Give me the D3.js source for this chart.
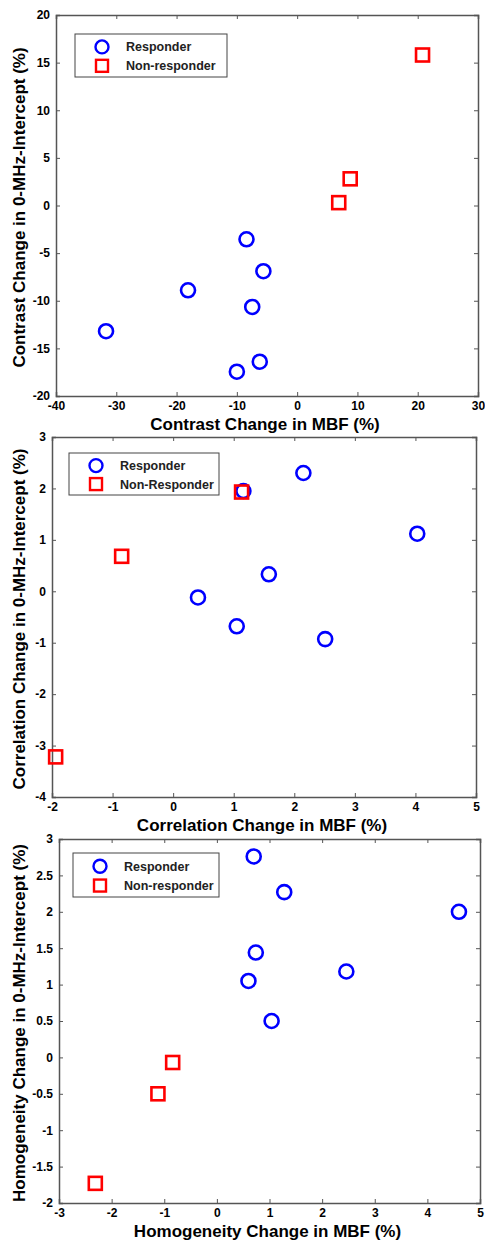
<!DOCTYPE html>
<meta charset="utf-8">
<head>
</head>
<body style="margin:0;background:#fff">
<style>
text { font-family: Arial, "Liberation Sans", sans-serif; fill: #000; }
.tick text { font-size: 12px; font-weight: bold; }
.axis path, .axis line { stroke: #555; }
.lab { font-size: 17px; font-weight: bold; }
.leg text { font-size: 12.5px; font-weight: bold; fill: #222; }
</style>
<svg width="485" height="1240"></svg>
<script src="https://d3js.org/d3.v7.min.js"></script>
<script>
// contrast panel
var contrastResp = [[-31.7,-13.2],[-18.1,-8.9],[-8.4,-3.55],[-5.6,-6.9],[-7.45,-10.65],[-10.0,-17.45],[-6.2,-16.4]];
var contrastNon = [[20.8,15.8],[8.8,2.8],[6.9,0.3]];
// correlation panel
var corrResp = [[0.41,-0.12],[1.05,-0.68],[1.58,0.33],[1.16,1.95],[2.15,2.3],[2.51,-0.93],[4.03,1.12]];
var corrNon = [[-1.94,-3.22],[-0.85,0.68],[1.13,1.93]];
// homogeneity panel
var homoResp = [[0.70,2.76],[1.28,2.27],[4.6,2.0],[0.74,1.44],[0.6,1.05],[2.46,1.18],[1.04,0.5]];
var homoNon = [[-0.84,-0.07],[-1.12,-0.5],[-2.31,-1.73]];

var panels = [
  {resp: contrastResp, non: contrastNon, xd: [-40,30], yd: [-20,20],
   xt: d3.range(-40,31,10), yt: d3.range(-20,21,5),
   box: [56,15,478,396], leg: [75,34,152,43], legNames: ["Responder","Non-responder"],
   xlab: "Contrast Change in MBF (%)", ylab: "Contrast Change in 0-MHz-Intercept (%)"},
  {resp: corrResp, non: corrNon, xd: [-2,5], yd: [-4,3],
   xt: d3.range(-2,6,1), yt: d3.range(-4,4,1),
   box: [52,437,476,797], leg: [69,453,150,42], legNames: ["Responder","Non-Responder"],
   xlab: "Correlation Change in MBF (%)", ylab: "Correlation Change in 0-MHz-Intercept (%)"},
  {resp: homoResp, non: homoNon, xd: [-3,5], yd: [-2,3],
   xt: d3.range(-3,6,1), yt: d3.range(-2,3.01,0.5),
   box: [59,839,480,1203], leg: [73,853,146,44], legNames: ["Responder","Non-responder"],
   xlab: "Homogeneity Change in MBF (%)", ylab: "Homogeneity Change in 0-MHz-Intercept (%)"}
];

var fmt = function(d) { return String(+d.toFixed(1)); };
var svg = d3.select("svg");

panels.forEach(function(p) {
  var x0 = p.box[0], y0 = p.box[1], x1 = p.box[2], y1 = p.box[3];
  var x = d3.scaleLinear().domain(p.xd).range([x0, x1]);
  var y = d3.scaleLinear().domain(p.yd).range([y1, y0]);
  var g = svg.append("g");

  g.append("g").attr("class", "axis").attr("transform", "translate(0," + y1 + ")")
    .call(d3.axisBottom(x).tickValues(p.xt).tickSize(-4).tickPadding(5).tickFormat(fmt));
  g.append("g").attr("class", "axis").attr("transform", "translate(" + x0 + ",0)")
    .call(d3.axisLeft(y).tickValues(p.yt).tickSize(-4).tickPadding(6).tickFormat(fmt));
  g.append("g").attr("class", "axis").attr("transform", "translate(0," + y0 + ")")
    .call(d3.axisTop(x).tickValues(p.xt).tickSize(-4).tickFormat(""));
  g.append("g").attr("class", "axis").attr("transform", "translate(" + x1 + ",0)")
    .call(d3.axisRight(y).tickValues(p.yt).tickSize(-4).tickFormat(""));
  g.selectAll(".axis path").attr("stroke-width", 1.5);

  g.append("text").attr("class", "lab").attr("text-anchor", "middle")
    .attr("x", (x0 + x1) / 2 - 2).attr("y", y1 + 34).text(p.xlab);
  g.append("text").attr("class", "lab").attr("text-anchor", "middle")
    .attr("transform", "translate(" + 25 + "," + ((y0 + y1) / 2 + 2) + ") rotate(-90)").text(p.ylab);

  g.selectAll(".resp").data(p.resp).enter().append("circle")
    .attr("cx", function(d) { return x(d[0]); })
    .attr("cy", function(d) { return y(d[1]); })
    .attr("r", 7).attr("fill", "none").attr("stroke", "#0000ff").attr("stroke-width", 2.6);
  g.selectAll(".non").data(p.non).enter().append("rect")
    .attr("x", function(d) { return x(d[0]) - 6.5; })
    .attr("y", function(d) { return y(d[1]) - 6.5; })
    .attr("width", 13).attr("height", 13)
    .attr("fill", "none").attr("stroke", "#ff0000").attr("stroke-width", 2.6);

  var lg = g.append("g").attr("class", "leg");
  lg.append("rect").attr("x", p.leg[0]).attr("y", p.leg[1]).attr("width", p.leg[2]).attr("height", p.leg[3])
    .attr("fill", "#fff").attr("stroke", "#444").attr("stroke-width", 1);
  var r1 = p.leg[1] + p.leg[3] * 0.3, r2 = p.leg[1] + p.leg[3] * 0.74;
  lg.append("circle").attr("cx", p.leg[0] + 27).attr("cy", r1).attr("r", 6.5)
    .attr("fill", "none").attr("stroke", "#0000ff").attr("stroke-width", 2.4);
  lg.append("rect").attr("x", p.leg[0] + 27 - 6).attr("y", r2 - 6).attr("width", 12).attr("height", 12)
    .attr("fill", "none").attr("stroke", "#ff0000").attr("stroke-width", 2.4);
  lg.append("text").attr("x", p.leg[0] + 51).attr("y", r1 + 4.5).text(p.legNames[0]);
  lg.append("text").attr("x", p.leg[0] + 51).attr("y", r2 + 4.5).text(p.legNames[1]);
});
</script>
</body>
